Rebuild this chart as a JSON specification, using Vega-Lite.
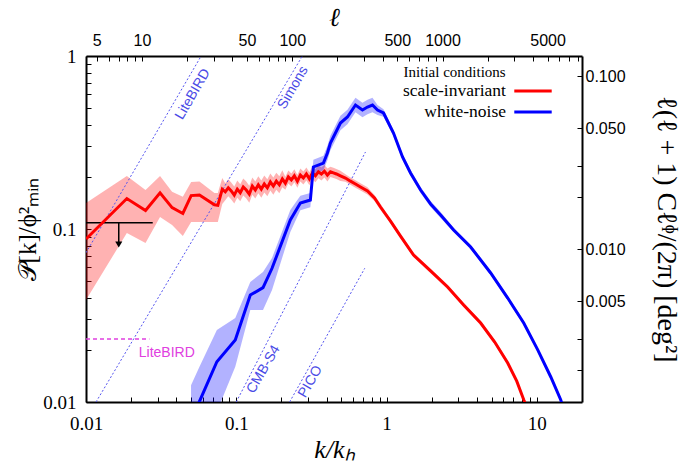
{
  "$schema": "https://vega.github.io/schema/vega-lite/v6.json",
  "autosize": {"type": "none"},
  "width": 496,
  "height": 346,
  "padding": {"left": 86, "top": 56, "right": 105, "bottom": 66},
  "background": "white",
  "datasets": {
    "curves": [
      {"s": "scale-invariant", "k": 0.0100, "P": 0.0875, "lo": 0.0389, "hi": 0.1414},
      {"s": "scale-invariant", "k": 0.0187, "P": 0.150, "lo": 0.0948, "hi": 0.2025},
      {"s": "scale-invariant", "k": 0.0249, "P": 0.128, "lo": 0.083, "hi": 0.168},
      {"s": "scale-invariant", "k": 0.0311, "P": 0.162, "lo": 0.1173, "hi": 0.2025},
      {"s": "scale-invariant", "k": 0.0374, "P": 0.133, "lo": 0.1055, "hi": 0.164},
      {"s": "scale-invariant", "k": 0.0441, "P": 0.123, "lo": 0.0911, "hi": 0.1537},
      {"s": "scale-invariant", "k": 0.0501, "P": 0.156, "lo": 0.1098, "hi": 0.1869},
      {"s": "scale-invariant", "k": 0.0569, "P": 0.157, "lo": 0.1098, "hi": 0.188},
      {"s": "scale-invariant", "k": 0.0716, "P": 0.138, "lo": 0.1098, "hi": 0.1615},
      {"s": "scale-invariant", "k": 0.0754, "P": 0.137, "lo": 0.1098, "hi": 0.1615},
      {"s": "scale-invariant", "k": 0.0807, "P": 0.170, "lo": 0.1395, "hi": 0.1971},
      {"s": "scale-invariant", "k": 0.0845, "P": 0.164, "lo": 0.1464, "hi": 0.1837},
      {"s": "scale-invariant", "k": 0.0885, "P": 0.173, "lo": 0.1545, "hi": 0.1938},
      {"s": "scale-invariant", "k": 0.0926, "P": 0.166, "lo": 0.1482, "hi": 0.1859},
      {"s": "scale-invariant", "k": 0.0970, "P": 0.157, "lo": 0.1402, "hi": 0.1758},
      {"s": "scale-invariant", "k": 0.1016, "P": 0.170, "lo": 0.1518, "hi": 0.1904},
      {"s": "scale-invariant", "k": 0.1063, "P": 0.162, "lo": 0.1446, "hi": 0.1814},
      {"s": "scale-invariant", "k": 0.1113, "P": 0.175, "lo": 0.1563, "hi": 0.196},
      {"s": "scale-invariant", "k": 0.1166, "P": 0.168, "lo": 0.15, "hi": 0.1882},
      {"s": "scale-invariant", "k": 0.1221, "P": 0.159, "lo": 0.142, "hi": 0.1781},
      {"s": "scale-invariant", "k": 0.1279, "P": 0.177, "lo": 0.158, "hi": 0.1982},
      {"s": "scale-invariant", "k": 0.1339, "P": 0.168, "lo": 0.15, "hi": 0.1882},
      {"s": "scale-invariant", "k": 0.1402, "P": 0.180, "lo": 0.1607, "hi": 0.2016},
      {"s": "scale-invariant", "k": 0.1468, "P": 0.170, "lo": 0.1518, "hi": 0.1904},
      {"s": "scale-invariant", "k": 0.1537, "P": 0.182, "lo": 0.1625, "hi": 0.2038},
      {"s": "scale-invariant", "k": 0.1610, "P": 0.173, "lo": 0.1545, "hi": 0.1938},
      {"s": "scale-invariant", "k": 0.1686, "P": 0.187, "lo": 0.167, "hi": 0.2094},
      {"s": "scale-invariant", "k": 0.1765, "P": 0.177, "lo": 0.158, "hi": 0.1982},
      {"s": "scale-invariant", "k": 0.1848, "P": 0.189, "lo": 0.1688, "hi": 0.2117},
      {"s": "scale-invariant", "k": 0.1935, "P": 0.180, "lo": 0.1607, "hi": 0.2016},
      {"s": "scale-invariant", "k": 0.2026, "P": 0.195, "lo": 0.1741, "hi": 0.2184},
      {"s": "scale-invariant", "k": 0.2122, "P": 0.184, "lo": 0.1688, "hi": 0.2006},
      {"s": "scale-invariant", "k": 0.2222, "P": 0.200, "lo": 0.1835, "hi": 0.218},
      {"s": "scale-invariant", "k": 0.2326, "P": 0.192, "lo": 0.1761, "hi": 0.2093},
      {"s": "scale-invariant", "k": 0.2436, "P": 0.203, "lo": 0.1862, "hi": 0.2213},
      {"s": "scale-invariant", "k": 0.2551, "P": 0.189, "lo": 0.1734, "hi": 0.206},
      {"s": "scale-invariant", "k": 0.2671, "P": 0.205, "lo": 0.1881, "hi": 0.2235},
      {"s": "scale-invariant", "k": 0.2797, "P": 0.197, "lo": 0.1807, "hi": 0.2147},
      {"s": "scale-invariant", "k": 0.2929, "P": 0.208, "lo": 0.1908, "hi": 0.2267},
      {"s": "scale-invariant", "k": 0.3067, "P": 0.195, "lo": 0.1789, "hi": 0.2126},
      {"s": "scale-invariant", "k": 0.3211, "P": 0.211, "lo": 0.1936, "hi": 0.23},
      {"s": "scale-invariant", "k": 0.3363, "P": 0.203, "lo": 0.1862, "hi": 0.2213},
      {"s": "scale-invariant", "k": 0.3521, "P": 0.214, "lo": 0.1963, "hi": 0.2333},
      {"s": "scale-invariant", "k": 0.3687, "P": 0.208, "lo": 0.1908, "hi": 0.2267},
      {"s": "scale-invariant", "k": 0.3861, "P": 0.216, "lo": 0.1982, "hi": 0.2354},
      {"s": "scale-invariant", "k": 0.4043, "P": 0.205, "lo": 0.1881, "hi": 0.2235},
      {"s": "scale-invariant", "k": 0.4233, "P": 0.214, "lo": 0.2, "hi": 0.229},
      {"s": "scale-invariant", "k": 0.4433, "P": 0.211, "lo": 0.1972, "hi": 0.2258},
      {"s": "scale-invariant", "k": 0.4642, "P": 0.208, "lo": 0.1944, "hi": 0.2226},
      {"s": "scale-invariant", "k": 0.4935, "P": 0.203, "lo": 0.1897, "hi": 0.2172},
      {"s": "scale-invariant", "k": 0.5329, "P": 0.197, "lo": 0.1876, "hi": 0.2069},
      {"s": "scale-invariant", "k": 0.5754, "P": 0.189, "lo": 0.18, "hi": 0.1985},
      {"s": "scale-invariant", "k": 0.6215, "P": 0.182, "lo": 0.1733, "hi": 0.1911},
      {"s": "scale-invariant", "k": 0.6711, "P": 0.175, "lo": 0.1667, "hi": 0.1838},
      {"s": "scale-invariant", "k": 0.7470, "P": 0.166, "lo": 0.1581, "hi": 0.1743},
      {"s": "scale-invariant", "k": 0.8318, "P": 0.151, "lo": 0.1452, "hi": 0.157},
      {"s": "scale-invariant", "k": 0.9120, "P": 0.134, "lo": 0.1288, "hi": 0.1394},
      {"s": "scale-invariant", "k": 1.0634, "P": 0.111, "lo": 0.1078, "hi": 0.1143},
      {"s": "scale-invariant", "k": 1.2397, "P": 0.091, "lo": 0.0883, "hi": 0.0937},
      {"s": "scale-invariant", "k": 1.5136, "P": 0.0707, "lo": 0.0686, "hi": 0.0728},
      {"s": "scale-invariant", "k": 1.9655, "P": 0.0572, "lo": 0.0555, "hi": 0.0589},
      {"s": "scale-invariant", "k": 2.5512, "P": 0.0462, "lo": 0.0449, "hi": 0.0476},
      {"s": "scale-invariant", "k": 3.2614, "P": 0.0364, "lo": 0.0353, "hi": 0.0375},
      {"s": "scale-invariant", "k": 4.2338, "P": 0.0286, "lo": 0.0278, "hi": 0.0295},
      {"s": "scale-invariant", "k": 5.2481, "P": 0.0222, "lo": 0.0216, "hi": 0.0229},
      {"s": "scale-invariant", "k": 6.4089, "P": 0.0168, "lo": 0.0163, "hi": 0.0173},
      {"s": "scale-invariant", "k": 7.3591, "P": 0.0132, "lo": 0.0128, "hi": 0.0136},
      {"s": "scale-invariant", "k": 8.1905, "P": 0.0103, "lo": 0.01, "hi": 0.0106},
      {"s": "scale-invariant", "k": 8.6, "P": 0.0093, "lo": 0.009, "hi": 0.0096},
      {"s": "white-noise", "k": 0.0500, "P": 0.0079, "lo": 0.005, "hi": 0.0125},
      {"s": "white-noise", "k": 0.0567, "P": 0.0100, "lo": 0.0062, "hi": 0.0159},
      {"s": "white-noise", "k": 0.0743, "P": 0.0171, "lo": 0.0088, "hi": 0.0261},
      {"s": "white-noise", "k": 0.0985, "P": 0.0228, "lo": 0.016, "hi": 0.0306},
      {"s": "white-noise", "k": 0.124, "P": 0.0415, "lo": 0.034, "hi": 0.0494},
      {"s": "white-noise", "k": 0.1507, "P": 0.0458, "lo": 0.034, "hi": 0.0564},
      {"s": "white-noise", "k": 0.173, "P": 0.0593, "lo": 0.0444, "hi": 0.068},
      {"s": "white-noise", "k": 0.229, "P": 0.1127, "lo": 0.0961, "hi": 0.1288},
      {"s": "white-noise", "k": 0.2671, "P": 0.1414, "lo": 0.1285, "hi": 0.1555},
      {"s": "white-noise", "k": 0.3113, "P": 0.147, "lo": 0.1336, "hi": 0.1617},
      {"s": "white-noise", "k": 0.326, "P": 0.2283, "lo": 0.2075, "hi": 0.2511},
      {"s": "white-noise", "k": 0.3802, "P": 0.2406, "lo": 0.2187, "hi": 0.2647},
      {"s": "white-noise", "k": 0.4043, "P": 0.275, "lo": 0.25, "hi": 0.3025},
      {"s": "white-noise", "k": 0.4233, "P": 0.3143, "lo": 0.2857, "hi": 0.3457},
      {"s": "white-noise", "k": 0.4935, "P": 0.410, "lo": 0.3727, "hi": 0.451},
      {"s": "white-noise", "k": 0.5495, "P": 0.4441, "lo": 0.4037, "hi": 0.4885},
      {"s": "white-noise", "k": 0.6215, "P": 0.5209, "lo": 0.4735, "hi": 0.573},
      {"s": "white-noise", "k": 0.6918, "P": 0.4874, "lo": 0.4431, "hi": 0.5361},
      {"s": "white-noise", "k": 0.747, "P": 0.5073, "lo": 0.4612, "hi": 0.558},
      {"s": "white-noise", "k": 0.8065, "P": 0.5209, "lo": 0.4735, "hi": 0.573},
      {"s": "white-noise", "k": 0.871, "P": 0.4874, "lo": 0.4555, "hi": 0.5215},
      {"s": "white-noise", "k": 0.955, "P": 0.4684, "lo": 0.4461, "hi": 0.4918},
      {"s": "white-noise", "k": 1.113, "P": 0.3589, "lo": 0.3451, "hi": 0.3733},
      {"s": "white-noise", "k": 1.278, "P": 0.2608, "lo": 0.2508, "hi": 0.2712},
      {"s": "white-noise", "k": 1.445, "P": 0.2107, "lo": 0.2026, "hi": 0.2191},
      {"s": "white-noise", "k": 1.686, "P": 0.168, "lo": 0.1615, "hi": 0.1747},
      {"s": "white-noise", "k": 1.965, "P": 0.1395, "lo": 0.1341, "hi": 0.1451},
      {"s": "white-noise", "k": 2.291, "P": 0.1205, "lo": 0.1159, "hi": 0.1253},
      {"s": "white-noise", "k": 2.797, "P": 0.0987, "lo": 0.0958, "hi": 0.1017},
      {"s": "white-noise", "k": 3.631, "P": 0.0787, "lo": 0.0764, "hi": 0.0811},
      {"s": "white-noise", "k": 4.935, "P": 0.0557, "lo": 0.0541, "hi": 0.0574},
      {"s": "white-noise", "k": 6.408, "P": 0.0399, "lo": 0.0387, "hi": 0.0411},
      {"s": "white-noise", "k": 8.19, "P": 0.0286, "lo": 0.0278, "hi": 0.0295},
      {"s": "white-noise", "k": 10.15, "P": 0.02, "lo": 0.0194, "hi": 0.0206},
      {"s": "white-noise", "k": 12.4, "P": 0.01395, "lo": 0.0135, "hi": 0.0144},
      {"s": "white-noise", "k": 14.45, "P": 0.01027, "lo": 0.01, "hi": 0.0106},
      {"s": "white-noise", "k": 15.0, "P": 0.0092, "lo": 0.009, "hi": 0.0095}
    ],
    "noise": [
      {"name": "LiteBIRD", "k": 0.01, "P": 0.0729},
      {"name": "LiteBIRD", "k": 0.0584, "P": 1.0},
      {"name": "Simons", "k": 0.01166, "P": 0.01},
      {"name": "Simons", "k": 0.2754, "P": 1.0},
      {"name": "CMB-S4", "k": 0.1, "P": 0.01},
      {"name": "CMB-S4", "k": 0.7244, "P": 0.2787},
      {"name": "PICO", "k": 0.2266, "P": 0.01},
      {"name": "PICO", "k": 0.7165, "P": 0.0593}
    ],
    "noiseLabels": [
      {"name": "LiteBIRD", "k": 0.0514, "P": 0.601},
      {"name": "Simons", "k": 0.2388, "P": 0.656},
      {"name": "CMB-S4", "k": 0.152, "P": 0.01545},
      {"name": "PICO", "k": 0.3113, "P": 0.0131}
    ]
  },
  "layer": [
    {
      "layer": [
        {
          "data": {"name": "curves"},
          "transform": [{"filter": "datum.s == 'scale-invariant'"}],
          "mark": {"type": "area", "opacity": 0.3, "color": "#ff0000", "clip": true, "interpolate": "linear"},
          "encoding": {
            "x": {"field": "k", "type": "quantitative", "scale": {"type": "log", "domain": [0.01, 20], "nice": false},
              "axis": {"orient": "bottom", "title": "k/kₕ",
                "values": [0.01,0.02,0.03,0.04,0.05,0.06,0.07,0.08,0.09,0.1,0.2,0.3,0.4,0.5,0.6,0.7,0.8,0.9,1,2,3,4,5,6,7,8,9,10],
                "labelExpr": "datum.value == 0.01 ? '0.01' : datum.value == 0.1 ? '0.1' : datum.value == 1 ? '1' : datum.value == 10 ? '10' : ''",
                "labelFont": "Liberation Serif", "labelFontSize": 19, "labelPadding": 17,
                "titleFont": "Liberation Serif", "titleFontStyle": "italic", "titleFontSize": 26, "titlePadding": 3}},
            "y": {"field": "lo", "type": "quantitative", "scale": {"type": "log", "domain": [0.01, 1], "nice": false},
              "axis": {"orient": "left", "title": "𝒫[k]/ϕ²ₘᵢₙ",
                "values": [0.01,0.02,0.03,0.04,0.05,0.06,0.07,0.08,0.09,0.1,0.2,0.3,0.4,0.5,0.6,0.7,0.8,0.9,1],
                "labelExpr": "datum.value == 0.01 ? '0.01' : datum.value == 0.1 ? '0.1' : datum.value == 1 ? '1' : ''",
                "labelFont": "Liberation Serif", "labelFontSize": 19, "labelPadding": 15,
                "titleFont": "Liberation Serif", "titleFontSize": 25, "titlePadding": 2}},
            "y2": {"field": "hi"}
          }
        },
        {
          "data": {"name": "curves"},
          "transform": [{"filter": "datum.s == 'white-noise'"}],
          "mark": {"type": "area", "opacity": 0.3, "color": "#0000ff", "clip": true, "interpolate": "linear"},
          "encoding": {
            "x": {"field": "k", "type": "quantitative"},
            "y": {"field": "lo", "type": "quantitative"},
            "y2": {"field": "hi"}
          }
        },
        {
          "data": {"name": "noise"},
          "mark": {"type": "line", "color": "#5454f0", "strokeWidth": 1, "strokeDash": [2, 2], "clip": true},
          "encoding": {
            "x": {"field": "k", "type": "quantitative"},
            "y": {"field": "P", "type": "quantitative"},
            "detail": {"field": "name"}
          }
        },
        {
          "data": {"name": "noiseLabels"},
          "mark": {"type": "text", "color": "#4a4ae6", "font": "Liberation Sans", "fontSize": 14, "angle": -60, "align": "center", "baseline": "middle"},
          "encoding": {
            "x": {"field": "k", "type": "quantitative"},
            "y": {"field": "P", "type": "quantitative"},
            "text": {"field": "name"}
          }
        },
        {
          "data": {"values": [{"k": 0.01, "k2": 0.0264, "P": 0.0231}]},
          "mark": {"type": "rule", "color": "#e040e0", "strokeWidth": 1.5, "strokeDash": [4, 3]},
          "encoding": {
            "x": {"field": "k", "type": "quantitative"},
            "x2": {"field": "k2"},
            "y": {"field": "P", "type": "quantitative"}
          }
        },
        {
          "data": {"values": [{"k": 0.0345, "P": 0.0191, "t": "LiteBIRD"}]},
          "mark": {"type": "text", "color": "#e040e0", "font": "Liberation Sans", "fontSize": 14, "align": "center", "baseline": "middle"},
          "encoding": {
            "x": {"field": "k", "type": "quantitative"},
            "y": {"field": "P", "type": "quantitative"},
            "text": {"field": "t"}
          }
        },
        {
          "data": {"values": [{"k": 2.84, "P": 0.8115, "t": "Initial conditions"}]},
          "mark": {"type": "text", "color": "black", "font": "Liberation Serif", "fontSize": 15, "align": "center", "baseline": "middle"},
          "encoding": {
            "x": {"field": "k", "type": "quantitative"},
            "y": {"field": "P", "type": "quantitative"},
            "text": {"field": "t"}
          }
        },
        {
          "data": {"values": [{"k": 0.01, "k2": 0.0278, "P": 0.1088}]},
          "mark": {"type": "rule", "color": "black", "strokeWidth": 1.5},
          "encoding": {
            "x": {"field": "k", "type": "quantitative"},
            "x2": {"field": "k2"},
            "y": {"field": "P", "type": "quantitative"}
          }
        },
        {
          "data": {"values": [{"k": 0.01652, "P": 0.1088, "P2": 0.084}]},
          "mark": {"type": "rule", "color": "black", "strokeWidth": 1.5},
          "encoding": {
            "x": {"field": "k", "type": "quantitative"},
            "y": {"field": "P", "type": "quantitative"},
            "y2": {"field": "P2"}
          }
        },
        {
          "data": {"values": [{"k": 0.01652, "P": 0.0813}]},
          "mark": {"type": "point", "shape": "triangle-down", "filled": true, "color": "black", "size": 50, "opacity": 1},
          "encoding": {
            "x": {"field": "k", "type": "quantitative"},
            "y": {"field": "P", "type": "quantitative"}
          }
        },
        {
          "data": {"name": "curves"},
          "mark": {"type": "line", "strokeWidth": 3, "clip": true},
          "encoding": {
            "x": {"field": "k", "type": "quantitative"},
            "y": {"field": "P", "type": "quantitative"},
            "color": {"field": "s", "type": "nominal",
              "scale": {"domain": ["scale-invariant", "white-noise"], "range": ["#ff0000", "#0000ff"]},
              "legend": {"title": null, "orient": "top-right", "offset": 24, "padding": 0,
                "labelFont": "Liberation Serif", "labelFontSize": 17.5, "labelColor": "black",
                "symbolType": "M-2,0H2", "symbolStrokeWidth": 3, "symbolSize": 350,
                "labelAlign": "right", "labelOffset": -38, "rowPadding": 1}}
          }
        }
      ]
    },
    {
      "data": {"values": [{"ell": 10, "C": 0.01}]},
      "mark": {"type": "point", "opacity": 0},
      "encoding": {
        "x": {"field": "ell", "type": "quantitative", "scale": {"type": "log", "domain": [4.24, 8480], "nice": false},
          "axis": {"orient": "top", "title": "ℓ",
            "values": [5,6,7,8,9,10,20,30,40,50,60,70,80,90,100,200,300,400,500,600,700,800,900,1000,2000,3000,4000,5000,6000,7000,8000],
            "labelExpr": "indexof([5,10,50,100,500,1000,5000], datum.value) >= 0 ? '' + datum.value : ''",
            "labelFont": "Liberation Sans", "labelFontSize": 16, "labelPadding": 13,
            "titleFont": "Liberation Serif", "titleFontStyle": "italic", "titleFontSize": 26, "titlePadding": 2}},
        "y": {"field": "C", "type": "quantitative", "scale": {"type": "log", "domain": [0.001305, 0.1305], "nice": false},
          "axis": {"orient": "right", "title": "ℓ(ℓ + 1) Cℓᶲ/(2π)   [deg²]",
            "values": [0.002, 0.003, 0.005, 0.01, 0.02, 0.03, 0.05, 0.1],
            "labelExpr": "datum.value == 0.1 ? '0.100' : datum.value == 0.05 ? '0.050' : datum.value == 0.01 ? '0.010' : datum.value == 0.005 ? '0.005' : ''",
            "labelFont": "Liberation Sans", "labelFontSize": 16, "labelPadding": 8,
            "titleFont": "Liberation Serif", "titleFontSize": 28, "titlePadding": 26}}
      }
    }
  ],
  "resolve": {"scale": {"x": "independent", "y": "independent"}},
  "config": {
    "view": {"stroke": null},
    "axis": {"domainColor": "black", "domainWidth": 2, "tickColor": "black", "tickSize": -5, "tickWidth": 1,
      "grid": false, "labelColor": "black", "titleColor": "black", "titleFontWeight": "normal",
      "labelOverlap": false, "labelBound": false, "labelFlush": false}
  }
}
